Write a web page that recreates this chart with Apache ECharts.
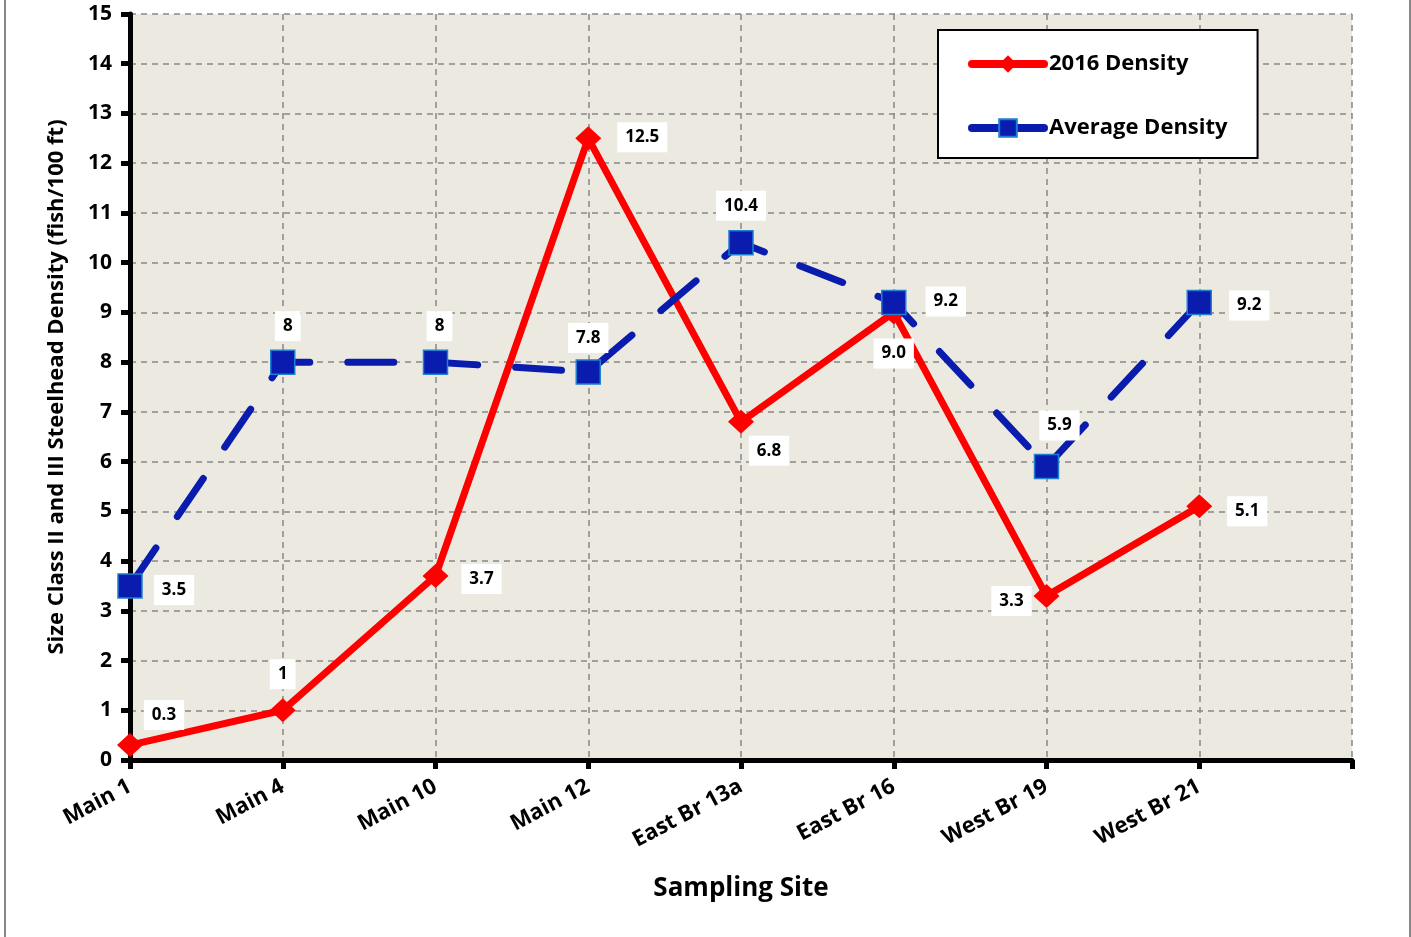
<!DOCTYPE html>
<html>
<head>
<meta charset="utf-8">
<script src="https://cdn.jsdelivr.net/npm/echarts@6/dist/echarts.min.js"></script>
<style>
  html, body { margin: 0; padding: 0; background: #fff; }
  #chart { width: 1411px; height: 937px; }
</style>
</head>
<body>
<div id="chart"></div>
<script>
// Sampling sites (the trailing blank slot leaves room on the right of the axis)
const sites = ['Main 1', 'Main 4', 'Main 10', 'Main 12', 'East Br 13a', 'East Br 16', 'West Br 19', 'West Br 21', ''];

// Steelhead density, fish per 100 ft
const density2016 = [0.3, 1, 3.7, 12.5, 6.8, 9.0, 3.3, 5.1];
const density2016Text = ['0.3', '1', '3.7', '12.5', '6.8', '9.0', '3.3', '5.1'];
const densityAvg = [3.5, 8, 8, 7.8, 10.4, 9.2, 5.9, 9.2];
const densityAvgText = ['3.5', '8', '8', '7.8', '10.4', '9.2', '5.9', '9.2'];

// Y axis ticks
const yMin = 0, yMax = 15, yStep = 1;

// Where each value label sits relative to its point (px)
const offset2016 = [[34, -30], [0, -36], [46, 3], [54, -1], [28, 29], [0, 41], [-35, 5], [48, 5]];
const offsetAvg = [[44, 4], [5, -36], [4, -36], [0, -34], [0, -37], [52, -1], [13, -41], [50, 3]];

const FONT = '"Open Sans", "Noto Sans", sans-serif';

const labelBase = {
  show: true,
  position: 'inside',
  color: '#000',
  fontFamily: FONT,
  fontWeight: 'bold',
  fontSize: 17,
  backgroundColor: '#fff',
  padding: [7, 8, 6, 8]
};

function points(values, texts, offsets) {
  return values.map((v, i) => ({
    value: v,
    label: Object.assign({}, labelBase, {
      offset: offsets[i],
      formatter: texts[i]
    })
  }));
}

const chart = echarts.init(document.getElementById('chart'), null, { renderer: 'canvas' });

chart.setOption({
  backgroundColor: '#fff',
  animation: false,
  grid: {
    left: 130, right: 59, top: 14, bottom: 177,
    show: true,
    backgroundColor: '#ECEAE0',
    borderWidth: 0
  },
  legend: {
    orient: 'vertical',
    left: 938,
    top: 30,
    padding: [23, 30, 19, 30],
    itemWidth: 72,
    itemHeight: 22,
    itemGap: 42,
    backgroundColor: '#fff',
    borderColor: '#000',
    borderWidth: 2,
    borderRadius: 0,
    lineStyle: { type: 'solid', width: 8, cap: 'round' },
    textStyle: { fontFamily: FONT, fontWeight: 'bold', fontSize: 22, color: '#000' },
    data: ['2016 Density', 'Average Density']
  },
  xAxis: {
    type: 'category',
    data: sites,
    boundaryGap: false,
    name: 'Sampling Site',
    nameLocation: 'middle',
    nameGap: 116,
    nameTextStyle: { fontFamily: FONT, fontWeight: 'bold', fontSize: 26, color: '#000' },
    axisLine: { show: true, onZero: false, lineStyle: { color: '#000', width: 5 } },
    axisTick: { show: true, inside: false, length: 9, alignWithLabel: true, lineStyle: { color: '#000', width: 5 } },
    axisLabel: {
      interval: 0,
      rotate: 28,
      margin: 25,
      fontFamily: FONT, fontWeight: 'bold', fontSize: 22, color: '#000'
    },
    splitLine: { show: true, lineStyle: { color: '#888', width: 1.5, type: [6, 5] } }
  },
  yAxis: {
    type: 'value',
    min: yMin, max: yMax, interval: yStep,
    name: 'Size Class II and III Steelhead Density (fish/100 ft)',
    nameLocation: 'middle',
    nameGap: 62,
    nameTextStyle: { fontFamily: FONT, fontWeight: 'bold', fontSize: 22, color: '#000' },
    axisLine: { show: true, lineStyle: { color: '#000', width: 5 } },
    axisTick: { show: true, inside: false, length: 9, lineStyle: { color: '#000', width: 5 } },
    axisLabel: { margin: 18, fontFamily: FONT, fontWeight: 'bold', fontSize: 21, color: '#000' },
    splitLine: { show: true, lineStyle: { color: '#888', width: 1.5, type: [6, 5] } }
  },
  series: [
    {
      name: '2016 Density',
      type: 'line',
      data: points(density2016, density2016Text, offset2016),
      symbol: 'diamond',
      symbolSize: [26, 24],
      itemStyle: { color: '#FF0000' },
      lineStyle: { color: '#FF0000', width: 7 },
      z: 3
    },
    {
      name: 'Average Density',
      type: 'line',
      data: points(densityAvg, densityAvgText, offsetAvg),
      symbol: 'rect',
      symbolSize: 24,
      itemStyle: { color: '#0A1CAE', borderColor: '#1F7FD0', borderWidth: 1.5 },
      lineStyle: { color: '#0A1CAE', width: 7, type: [46, 38], cap: 'round' },
      z: 4
    }
  ],
  graphic: [
    { type: 'line', shape: { x1: 5, y1: 0, x2: 5, y2: 937 }, style: { stroke: '#888', lineWidth: 2 } },
    { type: 'line', shape: { x1: 1410, y1: 0, x2: 1410, y2: 937 }, style: { stroke: '#888', lineWidth: 2 } }
  ]
});
</script>
</body>
</html>
